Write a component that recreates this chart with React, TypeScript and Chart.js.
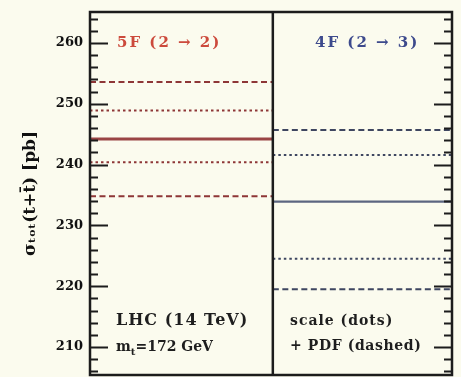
import React, { useEffect, useRef } from 'react';
import { Chart, registerables } from 'chart.js';

Chart.register(...registerables);

// Total t-channel cross sections in the two flavour schemes
const panelLabels = ['5F (2 → 2)', '4F (2 → 3)'];
const centralXsec = [244.2, 233.9];
const scaleHigh = [248.9, 241.6];
const scaleLow = [240.4, 224.5];
const pdfHigh = [253.6, 245.7];
const pdfLow = [234.8, 219.5];

const yTickValues = [210, 220, 230, 240, 250, 260];
const yMinorStep = 2;
const yMin = 205.4;
const yMax = 265.1;
const panelEdges = [0, 1, 1.98];

const panelTextColors = ['#cc4a3c', '#3d4a8c'];
const centralColors = ['#9a4444', '#5c6680'];
const bandColors = ['#8e3636', '#3e4660'];
const BG = '#fbfbee';
const SERIF = '"DejaVu Serif"';

function segment(panel: number, value: number) {
  return [
    { x: panelEdges[panel], y: value },
    { x: panelEdges[panel + 1], y: value },
  ];
}

function text(ctx: any, s: string, x: number, y: number, size: number, spacing: number) {
  ctx.font = `bold ${size}px ${SERIF}`;
  ctx.letterSpacing = `${spacing}px`;
  ctx.fillText(s, x, y);
  const w = ctx.measureText(s).width;
  ctx.letterSpacing = '0px';
  return w;
}

const framePlugin = {
  id: 'framePlugin',
  beforeDraw(chart: any) {
    const { ctx } = chart;
    ctx.save();
    ctx.fillStyle = BG;
    ctx.fillRect(0, 0, chart.width, chart.height);
    ctx.restore();
  },
  afterDatasetsDraw(chart: any) {
    const { ctx, chartArea: a, scales } = chart;
    const y = scales.y;
    const x = scales.x;
    ctx.save();
    ctx.strokeStyle = '#1c1c1c';

    // minor and major ticks on both vertical axes, pointing inward
    ctx.lineWidth = 2;
    for (let v = Math.ceil(yMin / yMinorStep) * yMinorStep; v <= yMax; v += yMinorStep) {
      const py = Math.round(y.getPixelForValue(v)) + 0.5;
      const major = v % 10 === 0;
      const len = major ? 18 : 8;
      ctx.beginPath();
      ctx.moveTo(a.left, py);
      ctx.lineTo(a.left + len, py);
      ctx.moveTo(a.right, py);
      ctx.lineTo(a.right - len, py);
      ctx.stroke();
    }

    // frame and panel divider
    ctx.lineWidth = 2.5;
    ctx.strokeRect(a.left, a.top, a.right - a.left, a.bottom - a.top);
    const xd = x.getPixelForValue(panelEdges[1]);
    ctx.beginPath();
    ctx.moveTo(xd, a.top);
    ctx.lineTo(xd, a.bottom);
    ctx.stroke();

    // annotations
    ctx.textBaseline = 'middle';
    ctx.textAlign = 'left';
    const yHead = y.getPixelForValue(260);
    ctx.fillStyle = panelTextColors[0];
    text(ctx, panelLabels[0], 117, yHead, 15, 2);
    ctx.fillStyle = panelTextColors[1];
    text(ctx, panelLabels[1], 315, yHead, 15, 2);

    ctx.fillStyle = '#1e1e1e';
    text(ctx, 'LHC (14 TeV)', 116, 321, 16, 1);
    // m_t with subscript
    let tx = 116;
    const ty = 347;
    tx += text(ctx, 'm', tx, ty, 14, 0);
    tx += text(ctx, 't', tx, ty + 5, 10, 0);
    text(ctx, '=172 GeV', tx, ty, 14, 0);

    text(ctx, 'scale (dots)', 290, 321, 14, 1);
    text(ctx, '+ PDF (dashed)', 290, 346, 14, 0.6);
    ctx.restore();
  },
};

function buildDatasets() {
  const sets: any[] = [];
  for (let p = 0; p < 2; p++) {
    sets.push({
      label: panelLabels[p] + ' central',
      data: segment(p, centralXsec[p]),
      borderColor: centralColors[p],
      borderWidth: p === 0 ? 3 : 2.2,
    });
    for (const v of [scaleHigh[p], scaleLow[p]]) {
      sets.push({
        label: panelLabels[p] + ' scale',
        data: segment(p, v),
        borderColor: bandColors[p],
        borderWidth: 2,
        borderDash: [2.5, 3],
      });
    }
    for (const v of [pdfHigh[p], pdfLow[p]]) {
      sets.push({
        label: panelLabels[p] + ' scale+PDF',
        data: segment(p, v),
        borderColor: bandColors[p],
        borderWidth: 2,
        borderDash: [6, 3.5],
      });
    }
  }
  return sets.map((s) => ({ ...s, pointRadius: 0, fill: false, tension: 0 }));
}

export default function App() {
  const canvasRef = useRef<HTMLCanvasElement | null>(null);

  useEffect(() => {
    if (!canvasRef.current) return;
    const chart = new Chart(canvasRef.current, {
      type: 'line',
      data: { datasets: buildDatasets() },
      options: {
        animation: false,
        responsive: false,
        maintainAspectRatio: false,
        layout: { padding: { top: 12, right: 9, bottom: 2, left: 0 } },
        plugins: { legend: { display: false }, tooltip: { enabled: false } },
        scales: {
          x: {
            type: 'linear',
            min: panelEdges[0],
            max: panelEdges[2],
            display: false,
          },
          y: {
            type: 'linear',
            min: yMin,
            max: yMax,
            afterFit(scale: any) {
              scale.width = 90;
              scale.paddingTop = 0;
              scale.paddingBottom = 0;
            },
            afterBuildTicks(scale: any) {
              scale.ticks = yTickValues.map((v) => ({ value: v }));
            },
            grid: { display: false, drawTicks: false },
            border: { display: false },
            ticks: {
              color: '#111',
              padding: 7,
              font: { family: SERIF, size: 13, weight: 'bold' },
            },
            title: {
              display: true,
              text: 'σₜₒₜ(t+t̄) [pb]',
              color: '#111',
              padding: { top: 20, bottom: 0 },
              font: { family: SERIF, size: 17, weight: 'bold' },
            },
          },
        },
      },
      plugins: [framePlugin],
    });
    return () => chart.destroy();
  }, []);

  return (
    <div style={{ position: 'fixed', left: 0, top: 0, width: 461, height: 377, background: BG }}>
      <canvas ref={canvasRef} width={461} height={377} />
    </div>
  );
}
